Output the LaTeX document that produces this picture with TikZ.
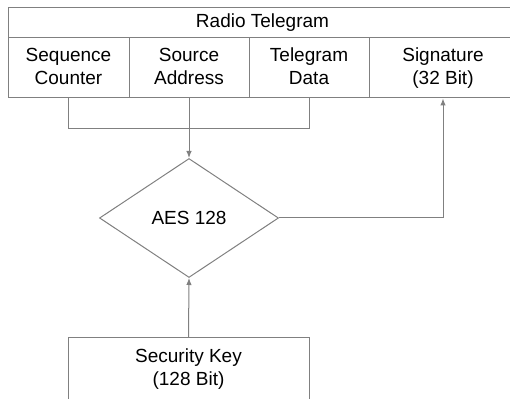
\documentclass[tikz,border=0pt]{standalone}
\usepackage{fontspec}
\setmainfont{Liberation Sans}
\usepackage{tikz}
\usetikzlibrary{shapes.geometric,arrows.meta,positioning}
\definecolor{linegray}{RGB}{128,128,128}
\tikzset{
  field/.style={draw=linegray, line width=1pt, rectangle, inner sep=0pt,
    align=center, font=\fontsize{19}{23}\selectfont},
  cipher/.style={draw=linegray, line width=1pt, diamond, aspect=1.5, inner sep=0pt,
    minimum width=179pt, minimum height=119pt, font=\fontsize{19}{23}\selectfont},
  flow/.style={draw=linegray, line width=1pt},
  flowarrow/.style={flow, -{Latex[length=7pt,width=5.5pt]}}
}
\begin{document}
\begin{tikzpicture}[x=1pt,y=1pt]
%
\useasboundingbox (0,0) rectangle (510,398);
\clip (0,0) rectangle (510,398);
%
\node[field, minimum width=509pt, minimum height=30pt] (radio) at (262.5,375) {Radio Telegram};
\node[field, minimum width=121pt, minimum height=60pt] (seq) at (68.5,330) {Sequence\strut\\Counter\strut};
\node[field, minimum width=120pt, minimum height=60pt] (src) at (189,330) {Source\strut\\Address\strut};
\node[field, minimum width=120pt, minimum height=60pt] (data) at (309,330) {Telegram\strut\\Data\strut};
\node[field, minimum width=148pt, minimum height=60pt] (sig) at (443,330) {Signature\strut\\(32 Bit)\strut};
%
\node[cipher] (aes) at (189,180) {AES 128};
%
\node[field, minimum width=241pt, minimum height=62pt] (key) at (188.5,29) {Security Key\strut\\(128 Bit)\strut};
%
\draw[flow] (seq.south) -- ++(0,-30) -| (data.south);
\draw[flowarrow] (src.south) -- (aes.north);
\draw[flowarrow] (aes.east) -| (sig.south);
\draw[flowarrow] (key.north) -- (aes.south);
%
\end{tikzpicture}
\end{document}
